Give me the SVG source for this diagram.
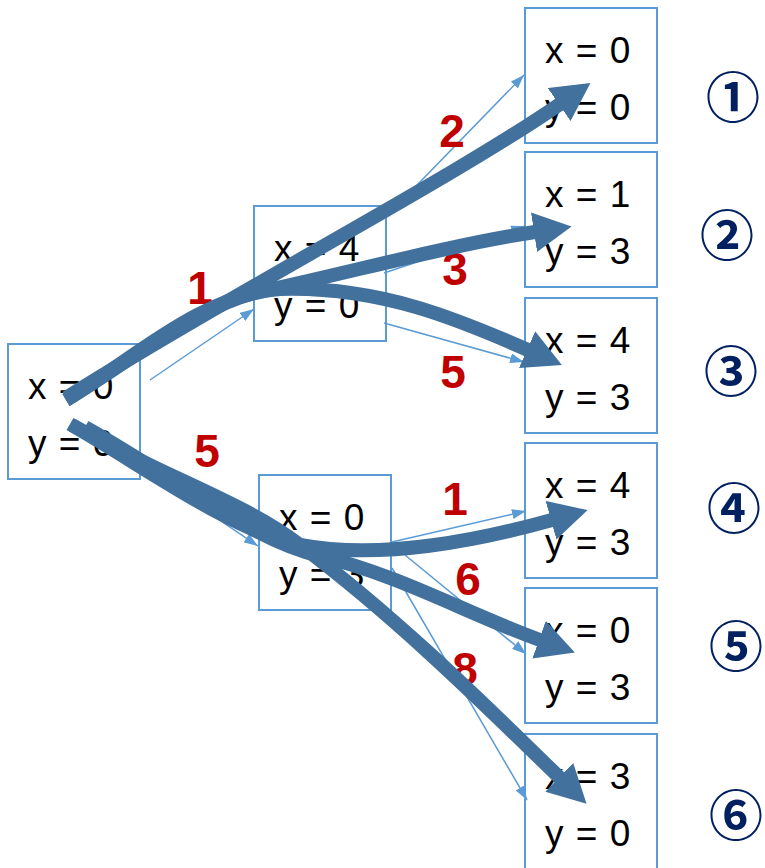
<svg xmlns="http://www.w3.org/2000/svg" width="765" height="868" viewBox="0 0 765 868">
<style>
.box{fill:#fff;stroke:#5B9BD5;stroke-width:2}
.t{font-family:"Liberation Sans",Arial,sans-serif;font-size:37px;fill:#000;word-spacing:2px}
.lbl{font-family:"Liberation Sans",Arial,sans-serif;font-size:46px;font-weight:bold;fill:#C00000;text-anchor:middle}
.thin{fill:none;stroke:#5B9BD5;stroke-width:1.5;marker-end:url(#ah)}
.thick{fill:none;stroke:#41719C;stroke-width:14;marker-end:url(#AH)}
.num{font-family:"Noto Sans CJK JP","Noto Sans CJK SC",sans-serif;font-size:54px;font-weight:bold;fill:#002060;text-anchor:middle;dominant-baseline:central}
</style>
<defs>
<marker id="ah" viewBox="0 0 14 10" refX="14" refY="5" markerWidth="14" markerHeight="10" markerUnits="userSpaceOnUse" orient="auto"><path d="M0,0 L14,5 L0,10 Z" fill="#5B9BD5"/></marker>
<marker id="AH" viewBox="0 0 38 40" refX="1" refY="20" markerWidth="38" markerHeight="40" markerUnits="userSpaceOnUse" orient="auto"><path d="M0,0 L38,20 L0,40 Z" fill="#41719C"/></marker>
</defs>
<g id="root"><rect class="box" x="8" y="344" width="132" height="135"/><text class="t" x="28" y="399">x = 0</text><text class="t" x="28" y="456">y = 0</text></g>
<g id="mid1"><rect class="box" x="254" y="206" width="132" height="135"/><text class="t" x="274" y="261">x = 4</text><text class="t" x="274" y="318">y = 0</text></g>
<g id="mid2"><rect class="box" x="259" y="475" width="132" height="135"/><text class="t" x="279" y="530">x = 0</text><text class="t" x="279" y="587">y = 3</text></g>
<g id="leaf1"><rect class="box" x="525" y="8" width="132" height="135"/><text class="t" x="545" y="63">x = 0</text><text class="t" x="545" y="120">y = 0</text></g>
<g id="leaf2"><rect class="box" x="525" y="152" width="132" height="135"/><text class="t" x="545" y="207">x = 1</text><text class="t" x="545" y="264">y = 3</text></g>
<g id="leaf3"><rect class="box" x="525" y="298" width="132" height="135"/><text class="t" x="545" y="353">x = 4</text><text class="t" x="545" y="410">y = 3</text></g>
<g id="leaf4"><rect class="box" x="525" y="443" width="132" height="135"/><text class="t" x="545" y="498">x = 4</text><text class="t" x="545" y="555">y = 3</text></g>
<g id="leaf5"><rect class="box" x="525" y="588" width="132" height="135"/><text class="t" x="545" y="643">x = 0</text><text class="t" x="545" y="700">y = 3</text></g>
<g id="leaf6"><rect class="box" x="525" y="734" width="132" height="135"/><text class="t" x="545" y="789">x = 3</text><text class="t" x="545" y="846">y = 0</text></g>
<g id="labels-right">
<text class="num" x="733" y="94">①</text>
<text class="num" x="727" y="232">②</text>
<text class="num" x="731" y="368">③</text>
<text class="num" x="734" y="505">④</text>
<text class="num" x="736" y="643">⑤</text>
<text class="num" x="736" y="812">⑥</text>
</g>
<g id="connectors">
<path class="thin" d="M150,380 L254,309"/>
<path class="thin" d="M145,470 L258,546"/>
<path class="thin" d="M386,217 L524,75"/>
<path class="thin" d="M384,273 L525,226"/>
<path class="thin" d="M384,323 L524,362"/>
<path class="thin" d="M392,542 L526,511"/>
<path class="thin" d="M405,555 L526,654"/>
<path class="thin" d="M392,568 L527,800"/>
<text class="lbl" x="200" y="304">1</text>
<text class="lbl" x="207" y="467">5</text>
<text class="lbl" x="452" y="147">2</text>
<text class="lbl" x="455" y="285">3</text>
<text class="lbl" x="453" y="388">5</text>
<text class="lbl" x="455" y="515">1</text>
<text class="lbl" x="468" y="595">6</text>
<text class="lbl" x="465" y="685">8</text>
<path class="thick" d="M66,398 C220,300 450,180 560,104"/>
<path class="thick" d="M66,400 C130,362 200,302 268,290 C360,270 450,245 535,232"/>
<path class="thick" d="M66,400 C130,362 200,295 280,289 C380,286 460,320 528,350"/>
<path class="thick" d="M70,424 C150,470 230,530 300,545 C380,560 480,540 552,520"/>
<path class="thick" d="M85,427 C180,480 250,540 320,556 C400,575 470,615 540,640"/>
<path class="thick" d="M72,425 C170,480 240,500 300,545 C400,620 490,710 560,778"/>
</g>
</svg>
